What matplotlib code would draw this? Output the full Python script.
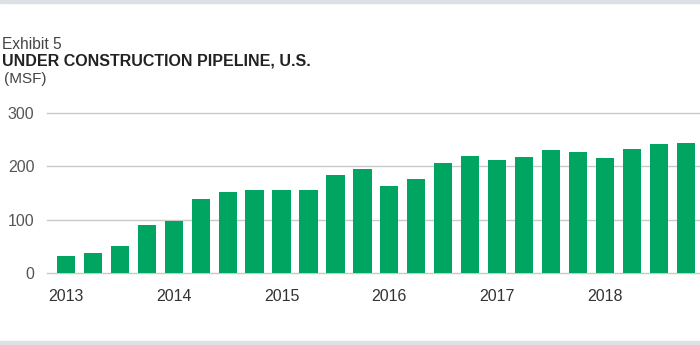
import matplotlib.pyplot as plt
from matplotlib.patches import Rectangle

plt.rcParams['font.family'] = ['Liberation Sans', 'DejaVu Sans']

# quarterly under-construction pipeline, 2013 Q1 .. 2018 Q4 (MSF)
quarters = [f"{y} Q{q}" for y in range(2013, 2019) for q in range(1, 5)]
pipeline = [31, 38, 51, 90, 98, 139, 151, 156,
            155, 155, 184, 196, 164, 177, 206, 220,
            212, 218, 231, 227, 215, 233, 243, 245]
year_labels = ["2013", "2014", "2015", "2016", "2017", "2018"]
y_ticks = [0, 100, 200, 300]

green = "#00a562"
grid_col = "#c9c9c9"
text_col = "#555555"

fig = plt.figure(figsize=(7, 3.45), dpi=100)

# thin grey bands at top and bottom
fig.patches.append(Rectangle((0, 1 - 3 / 345), 1, 3 / 345, transform=fig.transFigure,
                             color="#dde0e4", zorder=0))
fig.patches.append(Rectangle((0, 0), 1, 4 / 345, transform=fig.transFigure,
                             color="#dde0e4", zorder=0))

fig.text(2 / 700, 1 - 49 / 345, "Exhibit 5", fontsize=11.2, color="#444444")
fig.text(2 / 700, 1 - 66 / 345, "UNDER CONSTRUCTION PIPELINE, U.S.",
         fontsize=11.5, fontweight="bold", color="#222222")
fig.text(4 / 700, 1 - 83 / 345, "(MSF)", fontsize=11, color="#444444")

ax = fig.add_axes([47 / 700, (345 - 272.7) / 345, 653 / 700, 159.4 / 345])
x = list(range(len(pipeline)))
ax.bar(x, pipeline, width=0.68, color=green, zorder=2)

ax.set_xlim(-0.705, 23.53)
ax.set_ylim(0, 300)
for t in y_ticks:
    ax.axhline(t, color=grid_col, lw=1, zorder=1, clip_on=False)

ax.set_yticks(y_ticks)
ax.set_yticklabels([str(t) for t in y_ticks])
ax.set_xticks(x[::4])
ax.set_xticklabels(year_labels)
ax.tick_params(axis="y", length=0, pad=9, labelsize=11.5, labelcolor=text_col)
ax.tick_params(axis="x", length=0, pad=12, labelsize=11.5, labelcolor="#333333")
for s in ax.spines.values():
    s.set_visible(False)

fig.savefig("out.png", dpi=100)
